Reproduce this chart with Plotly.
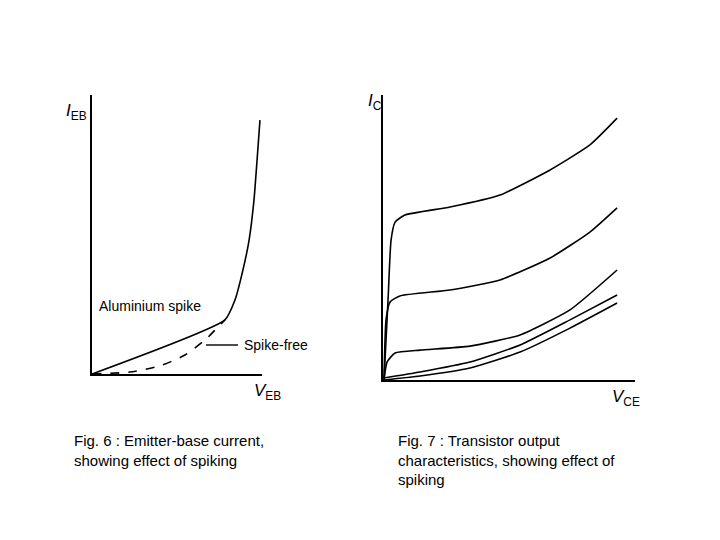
import plotly.graph_objects as go

# Fig. 6 (arbitrary units 0-100)
al_x = [0, 78.2, 84.1, 88.8, 92.4, 95.3, 97.1, 98.8]
al_y = [0, 19.4, 26.5, 37.3, 48.0, 62.4, 76.7, 91.0]
sf_x = [0, 22.4, 40, 54.7, 66.5, 78.2]
sf_y = [0, 0.7, 2.9, 6.8, 12.2, 19.4]

# Fig. 7 curves
c1_x = [0.4, 2.0, 3.2, 4.8, 8.7, 26.6, 46.4, 66.3, 82.1, 92.9]
c1_y = [0, 28.1, 49.1, 55.4, 57.9, 60.7, 64.9, 73.7, 82.5, 91.9]
c2_x = [0.4, 1.2, 2.8, 6.7, 26.6, 46.4, 66.3, 82.1, 92.9]
c2_y = [0, 21.1, 27.4, 29.5, 31.6, 35.1, 42.8, 51.9, 60.4]
c3_x = [0.4, 1.6, 4.8, 14.7, 34.5, 54.4, 74.2, 92.9]
c3_y = [0, 6.3, 9.5, 10.5, 11.9, 15.8, 24.6, 38.6]
c4_x = [0.4, 14.7, 34.5, 54.4, 74.2, 92.9]
c4_y = [0.7, 2.8, 6.3, 12.3, 21.1, 29.8]
c5_x = [0.4, 14.7, 34.5, 54.4, 74.2, 92.9]
c5_y = [0, 1.4, 4.2, 9.8, 18.2, 27.0]

W, H = 720, 540
OFF = 8  # page body margin
line = dict(color="black", width=1.6, shape="spline", smoothing=0.5)

fig = go.Figure()
fig.add_trace(go.Scatter(x=al_x, y=al_y, mode="lines", line=line, xaxis="x", yaxis="y"))
fig.add_trace(go.Scatter(x=sf_x, y=sf_y, mode="lines", line=dict(line, dash="dash"), xaxis="x", yaxis="y"))
for cx, cy in [(c1_x, c1_y), (c2_x, c2_y), (c3_x, c3_y), (c4_x, c4_y), (c5_x, c5_y)]:
    fig.add_trace(go.Scatter(x=cx, y=cy, mode="lines", line=line, xaxis="x2", yaxis="y2"))

ax = dict(showline=True, linecolor="black", linewidth=2, showgrid=False, zeroline=False,
          showticklabels=False, ticks="", fixedrange=True)

def px(x): return (x - OFF) / W
def py(y): return 1 - (y - OFF) / H

fig.update_layout(
    width=W, height=H, margin=dict(l=0, r=0, t=0, b=0), showlegend=False,
    paper_bgcolor="white", plot_bgcolor="white",
    xaxis=dict(ax, domain=[px(92), px(262)], range=[0, 100], anchor="y"),
    yaxis=dict(ax, domain=[py(374), py(95)], range=[0, 100], anchor="x"),
    xaxis2=dict(ax, domain=[px(383), px(635)], range=[0, 100], anchor="y2"),
    yaxis2=dict(ax, domain=[py(380), py(95)], range=[0, 100], anchor="x2"),
)

lab = dict(family="Helvetica, Arial, Liberation Sans", size=14, color="black")
def note(x, y, t, size=14, xa="left"):
    fig.add_annotation(x=px(x), y=py(y), xref="paper", yref="paper", text=t, showarrow=False,
                       xanchor=xa, yanchor="middle", font=dict(lab, size=size), align="left")

note(64, 112, "<i>I</i><sub>EB</sub>", 17)
note(97, 306, "Aluminium spike")
note(242, 345, "Spike-free")
note(252, 392, "<i>V</i><sub>EB</sub>", 17)
note(366, 102, "<i>I</i><sub>C</sub>", 17)
note(610, 398, "<i>V</i><sub>CE</sub>", 17)
fig.add_shape(type="line", xref="paper", yref="paper", x0=px(206), y0=py(345), x1=px(238), y1=py(345),
              line=dict(color="black", width=1.4))

cap = dict(family="Arial, Liberation Sans", size=15, color="black")
fig.add_annotation(x=px(72), y=py(430), xref="paper", yref="paper", showarrow=False,
                   xanchor="left", yanchor="top", align="left", font=cap,
                   text="Fig. 6 : Emitter-base current,<br>showing effect of spiking")
fig.add_annotation(x=px(396), y=py(430), xref="paper", yref="paper", showarrow=False,
                   xanchor="left", yanchor="top", align="left", font=cap,
                   text="Fig. 7 : Transistor output<br>characteristics, showing effect of<br>spiking")

fig.write_html("out.html")
